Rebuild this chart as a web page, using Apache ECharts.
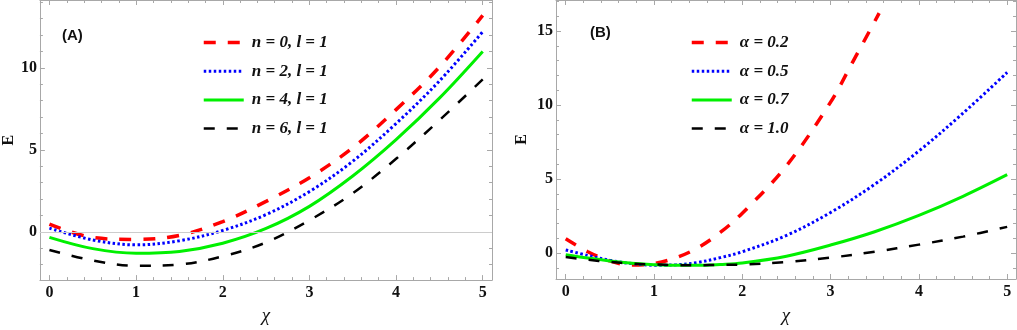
<!DOCTYPE html>
<html><head><meta charset="utf-8">
<script src="https://cdn.jsdelivr.net/npm/echarts@6/dist/echarts.min.js"></script>
<style>html,body{margin:0;padding:0;background:#fff}#c{width:1017px;height:330px}</style>
</head><body><div id="c"></div>
<script>
// ---------- Panel A data ----------
const xA = [0, 0.5, 1, 1.5, 2, 2.5, 3, 3.5, 4, 4.5, 5];
const eN0 = [0.46, -0.35, -0.47, -0.22, 0.62, 1.85, 3.3, 5.12, 7.45, 10.05, 13.2];
const eN2 = [0.22, -0.5, -0.8, -0.55, 0.08, 1.05, 2.45, 4.3, 6.6, 9.2, 12.2];
const eN4 = [-0.34, -1.03, -1.31, -1.2, -0.7, 0.2, 1.55, 3.4, 5.62, 8.15, 11.0];
const eN6 = [-1.11, -1.75, -2.08, -2.0, -1.5, -0.65, 0.7, 2.35, 4.45, 6.8, 9.3];
const namesA = ['n = 0, l = 1', 'n = 2, l = 1', 'n = 4, l = 1', 'n = 6, l = 1'];

// ---------- Panel B data ----------
const xB = [0, 0.25, 0.5, 0.75, 1, 1.25, 1.5, 1.75, 2, 2.5, 3, 3.5, 4, 4.5, 5];
const xBred = [0, 0.25, 0.5, 0.75, 1, 1.25, 1.5, 1.75, 2, 2.5, 3, 3.25, 3.55];
const eA02 = [0.97, 0.1, -0.52, -0.8, -0.7, -0.3, 0.38, 1.4, 2.7, 5.9, 10.2, 12.9, 16.2];
const eA05 = [0.22, -0.15, -0.48, -0.7, -0.81, -0.78, -0.62, -0.3, 0.1, 1.2, 2.75, 4.65, 6.9, 9.45, 12.2];
const eA07 = [-0.11, -0.33, -0.52, -0.67, -0.77, -0.82, -0.82, -0.76, -0.66, -0.2, 0.55, 1.45, 2.55, 3.84, 5.3];
const eA10 = [-0.26, -0.44, -0.59, -0.7, -0.76, -0.8, -0.81, -0.79, -0.76, -0.6, -0.3, 0.1, 0.58, 1.12, 1.78];
const namesB = ['α = 0.2', 'α = 0.5', 'α = 0.7', 'α = 1.0'];

// ---------- ticks ----------
const xTicks = [0, 1, 2, 3, 4, 5];
const yTicksA = [0, 5, 10];
const yTicksB = [0, 5, 10, 15];

const SERIF = "'Liberation Serif', 'Times New Roman', 'DejaVu Serif', serif";
const SANS = "'Liberation Sans', Arial, sans-serif";
const GRAY = '#a8a8a8';
const labelFont = { fontFamily: SERIF, fontWeight: 'bold', fontSize: 16, color: '#111' };

function minorVals(min, max, step, majors) {
  const out = [];
  const start = Math.ceil(min / step - 1e-9);
  const end = Math.floor(max / step + 1e-9);
  for (let i = start; i <= end; i++) {
    const v = Math.round(i * step * 1000) / 1000;
    if (majors.indexOf(v) < 0) out.push(v);
  }
  return out;
}

function axisSet(dim, grid, min, max, majors, minorStep, nameCfg) {
  const minors = minorVals(min, max, minorStep, majors);
  const posA = dim === 'x' ? 'bottom' : 'left';
  const posB = dim === 'x' ? 'top' : 'right';
  const base = { type: 'value', gridIndex: grid, min, max, splitLine: { show: false } };
  const major = (pos, withLabel) => Object.assign({}, base, {
    position: pos,
    axisLine: { show: true, onZero: false, lineStyle: { color: GRAY, width: 1 } },
    axisTick: { show: true, inside: true, length: 5, customValues: majors, lineStyle: { color: GRAY } },
    axisLabel: withLabel ? Object.assign({ show: true, customValues: majors, margin: dim === 'x' ? 5 : 3 }, labelFont) : { show: false }
  }, withLabel ? nameCfg : {});
  const minor = (pos) => Object.assign({}, base, {
    position: pos,
    axisLine: { show: false, onZero: false },
    axisTick: { show: true, inside: true, length: 3, customValues: minors, lineStyle: { color: GRAY } },
    axisLabel: { show: false }
  });
  return [major(posA, true), minor(posA), major(posB, false), minor(posB)];
}

const xNameStyle = { fontFamily: SERIF, fontStyle: 'italic', fontSize: 19, color: '#111' };
const yNameStyle = { fontFamily: SERIF, fontWeight: 'bold', fontSize: 16, color: '#111' };

const xAxes = [].concat(
  axisSet('x', 0, -0.11, 5.107, xTicks, 0.2, { name: 'χ', nameLocation: 'middle', nameGap: 25, nameTextStyle: xNameStyle }),
  axisSet('x', 1, -0.11, 5.10, xTicks, 0.2, { name: 'χ', nameLocation: 'middle', nameGap: 27, nameTextStyle: xNameStyle })
);
const yAxes = [].concat(
  axisSet('y', 0, -2.95, 14.14, yTicksA, 1, { name: 'E', nameLocation: 'middle', nameGap: 22, nameRotate: 90, nameTextStyle: yNameStyle }),
  axisSet('y', 1, -1.74, 17.09, yTicksB, 1, { name: 'E', nameLocation: 'middle', nameGap: 26, nameRotate: 90, nameTextStyle: yNameStyle })
);

function pts(xs, ys) { return xs.map((x, i) => [x, ys[i]]); }
function mk(name, xs, ys, color, width, type, ax) {
  return {
    type: 'line', name, data: pts(xs, ys), xAxisIndex: ax, yAxisIndex: ax,
    symbol: 'none', showSymbol: false, smooth: 0.35, silent: true, z: 3,
    lineStyle: { color, width, type, cap: 'butt' }, itemStyle: { color }
  };
}

const RED = '#ff0000', BLUE = '#0000ff', GREEN = '#00f000', BLACK = '#000000';
const series = [
  { type: 'line', data: [], xAxisIndex: 0, yAxisIndex: 0, silent: true, z: 1,
    markLine: { silent: true, symbol: ['none', 'none'], label: { show: false },
      lineStyle: { color: '#cccccc', type: 'solid', width: 1 }, data: [{ yAxis: 0 }] } },
  mk(namesA[0], xA, eN0, RED, 3.5, [12, 12], 0),
  mk(namesA[1], xA, eN2, BLUE, 3, [2.5, 2.5], 0),
  mk(namesA[2], xA, eN4, GREEN, 3, 'solid', 0),
  mk(namesA[3], xA, eN6, BLACK, 2.5, [11, 12], 0),
  mk(namesB[0], xBred, eA02, RED, 3.5, [12, 12], 4),
  mk(namesB[1], xB, eA05, BLUE, 3, [2.5, 2.5], 4),
  mk(namesB[2], xB, eA07, GREEN, 3, 'solid', 4),
  mk(namesB[3], xB, eA10, BLACK, 2.5, [11, 12], 4)
];

const legendFont = { fontFamily: SERIF, fontStyle: 'italic', fontWeight: 'bold', fontSize: 17, color: '#111', padding: [0, 0, 0, 3] };
const legendBase = {
  orient: 'vertical', itemWidth: 40, itemHeight: 16, itemGap: 11.7, padding: 0, selectedMode: false,
  itemStyle: { color: 'rgba(0,0,0,0)', borderColor: 'rgba(0,0,0,0)', borderWidth: 0, opacity: 0 },
  lineStyle: { width: 'inherit', type: 'inherit', color: 'inherit', cap: 'butt' },
  textStyle: legendFont
};

const chart = echarts.init(document.getElementById('c'), null, { renderer: 'canvas' });
chart.setOption({
  animation: false,
  backgroundColor: '#ffffff',
  title: [
    { text: '(A)', left: 62, top: 28, padding: 0, textStyle: { fontFamily: SANS, fontWeight: 'bold', fontSize: 15, color: '#111' } },
    { text: '(B)', left: 590, top: 25, padding: 0, textStyle: { fontFamily: SANS, fontWeight: 'bold', fontSize: 15, color: '#111' } }
  ],
  legend: [
    Object.assign({ data: namesA, left: 202, top: 34 }, legendBase),
    Object.assign({ data: namesB, left: 690, top: 34 }, legendBase)
  ],
  grid: [
    { left: 38, right: 525, top: 0, bottom: 48 },
    { left: 556, right: 1, top: 0, bottom: 44 }
  ],
  xAxis: xAxes,
  yAxis: yAxes,
  series
});
</script>
</body></html>
